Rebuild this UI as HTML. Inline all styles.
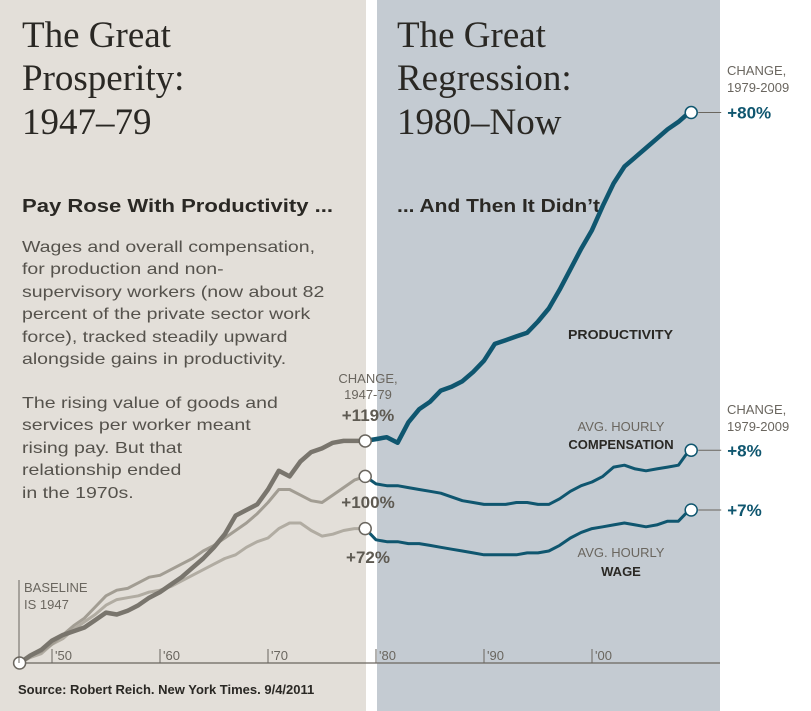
<!DOCTYPE html>
<html><head><meta charset="utf-8"><style>
body{margin:0;background:#fff;}
svg{display:block;font-family:"Liberation Sans",sans-serif;}
.ttl{font-family:"Liberation Serif",serif;font-size:37px;fill:#2a2824;}
.body{font-size:16px;fill:#55524c;}
</style></head><body>
<svg id="chart" width="811" height="711" viewBox="0 0 811 711">
<rect x="0" y="0" width="366" height="711" fill="#e3dfd9"/>
<rect x="377" y="0" width="343" height="711" fill="#c4cbd2"/>
<g class="ttl">
<text x="22" y="47">The Great</text><text x="22" y="90">Prosperity:</text><text x="22" y="134">1947–79</text></g>
<g class="ttl">
<text x="397" y="47">The Great</text><text x="397" y="90">Regression:</text><text x="397" y="134">1980–Now</text></g>
<text x="22" y="212" font-size="18" font-weight="bold" fill="#2a2824" textLength="311" lengthAdjust="spacingAndGlyphs">Pay Rose With Productivity ...</text>
<text x="397" y="212" font-size="18" font-weight="bold" fill="#2a2824" textLength="203" lengthAdjust="spacingAndGlyphs">... And Then It Didn’t</text>
<g class="body" transform="translate(22,0) scale(1.22,1)">
<text x="0" y="252">Wages and overall compensation,</text>
<text x="0" y="274">for production and non-</text>
<text x="0" y="297">supervisory workers (now about 82</text>
<text x="0" y="319">percent of the private sector work</text>
<text x="0" y="342">force), tracked steadily upward</text>
<text x="0" y="364">alongside gains in productivity.</text>
<text x="0" y="408">The rising value of goods and</text>
<text x="0" y="430">services per worker meant</text>
<text x="0" y="453">rising pay. But that</text>
<text x="0" y="475">relationship ended</text>
<text x="0" y="498">in the 1970s.</text></g>
<g id="axis"></g>
<g id="series"></g>
<g id="labels" font-size="13" fill="#6a665f">
<text x="24" y="592">BASELINE</text>
<text x="24" y="609">IS 1947</text>
<line x1="19" y1="580" x2="19" y2="663" stroke="#6a665f" stroke-width="1"/>
<text x="368" y="383" text-anchor="middle">CHANGE,</text>
<text x="368" y="399" text-anchor="middle">1947-79</text>
<text x="368" y="421" text-anchor="middle" font-size="17" font-weight="bold" fill="#5e5a52">+119%</text>
<text x="368" y="508" text-anchor="middle" font-size="17" font-weight="bold" fill="#5e5a52">+100%</text>
<text x="368" y="563" text-anchor="middle" font-size="17" font-weight="bold" fill="#5e5a52">+72%</text>
<text x="727" y="75">CHANGE,</text>
<text x="727" y="92">1979-2009</text>
<text x="727" y="414">CHANGE,</text>
<text x="727" y="431">1979-2009</text>
<text x="568" y="339" font-weight="bold" fill="#2a2824" font-size="13" textLength="105" lengthAdjust="spacingAndGlyphs">PRODUCTIVITY</text>
<text x="621" y="431" text-anchor="middle">AVG. HOURLY</text>
<text x="621" y="449" text-anchor="middle" font-weight="bold" fill="#2a2824" font-size="13">COMPENSATION</text>
<text x="621" y="557" text-anchor="middle">AVG. HOURLY</text>
<text x="621" y="576" text-anchor="middle" font-weight="bold" fill="#2a2824" font-size="13">WAGE</text>
</g>
<text x="18" y="694" font-size="13" font-weight="bold" fill="#2a2824">Source: Robert Reich. New York Times. 9/4/2011</text>
</svg>
<script>
const years=[];for(let y=1947;y<=2009;y++)years.push(y);
const productivity=[100,104,107,112,115,117,119,123,127,126,128,131,135,138,142,146,151,156,162,169,179,182,185,193,203,200,208,213,215,218,219,219,219,
220,221,218,229,236,240,246,248,251,256,262,271,273,275,277,283,290,300,311,322,332,345,357,366,371,376,381,386,390,395];
const compensation=[100,104,106,110,115,120,124,130,136,139,140,143,146,147,150,153,156,160,163,167,171,175,180,186,193,193,190,187,186,190,194,198,200,
196,195,195,194,193,192,191,189,187,186,185,185,185,186,186,185,185,188,192,195,197,200,205,206,204,203,204,205,206,214];
const wage=[100,103,105,110,113,118,122,126,131,134,135,136,138,139,141,144,147,150,153,156,158,162,165,167,172,175,175,171,168,169,171,172,172,
166,165,165,164,164,163,162,161,160,159,158,158,158,158,159,159,160,163,167,170,172,173,174,175,174,173,174,176,176,182];
const tickLabels=["'50","'60","'70","'80","'90","'00"];
const tickYearsAll=[1950,1960,1970,1980,1990,2000];
const endLabels=["+80%","+8%","+7%"];

const X=y=>19.6+(y-1947)*10.8;
const Y=v=>663-(v-100)*1.866;
const NS="http://www.w3.org/2000/svg";
function mk(tag,attrs,parent){const e=document.createElementNS(NS,tag);for(const k in attrs)e.setAttribute(k,attrs[k]);parent.appendChild(e);return e;}
const ax=document.getElementById('axis');
const base=mk('line',{x1:X(1947),y1:Y(100),x2:720,y2:Y(100),stroke:'#6a665f','stroke-width':1.2},ax);


tickYearsAll.forEach((ty,i)=>{
  const t=mk('line',{x1:X(ty),y1:Y(100),x2:X(ty),y2:Y(100)-14,stroke:'#6a665f','stroke-width':1},ax);
  
  
  const l=mk('text',{x:X(ty)+3,y:Y(100)-3,'font-size':13,fill:'#6a665f'},ax);
  
  
  l.textContent=tickLabels[i];
});
const sg=document.getElementById('series');
const split=1979-1947;
function path(vals,a,b){return vals.slice(a,b+1).map((v,i)=>(i?'L':'M')+X(years[a+i]).toFixed(1)+','+Y(v).toFixed(1)).join(' ');}
const defs=[[wage,'#b1aca2','wage',3],[compensation,'#a29d93','compensation',3],[productivity,'#79756d','productivity',4.5]];
defs.forEach(([vals,col,name,w])=>{
  const p1=mk('path',{d:path(vals,0,split),fill:'none',stroke:col,'stroke-width':w,'stroke-linejoin':'round'},sg);
  
  
  const p2=mk('path',{d:path(vals,split,vals.length-1),fill:'none',stroke:'#0f566f','stroke-width':w,'stroke-linejoin':'round'},sg);
  
  
});
[[productivity],[compensation],[wage]].forEach(([vals],i)=>{
  const c=mk('circle',{cx:X(1979),cy:Y(vals[split]),r:6,fill:'#fff',stroke:'#6a665f','stroke-width':1.5},sg);
  
  
  const ye=Y(vals[vals.length-1]);
  const c2=mk('circle',{cx:X(2009)+2,cy:ye,r:6,fill:'#fff',stroke:'#0f566f','stroke-width':1.5},sg);
  
  
  const ln=mk('line',{x1:X(2009)+9,y1:ye,x2:X(2009)+32,y2:ye,stroke:'#6a665f','stroke-width':1},sg);
  
  
  const t=mk('text',{x:X(2009)+38,y:ye+6,'font-size':17,'font-weight':'bold',fill:'#0f566f'},sg);
  
  
  t.textContent=endLabels[i];
});
const c0=mk('circle',{cx:X(1947),cy:Y(100),r:6,fill:'#fff',stroke:'#6a665f','stroke-width':1.5},sg);


</script>
</body></html>
